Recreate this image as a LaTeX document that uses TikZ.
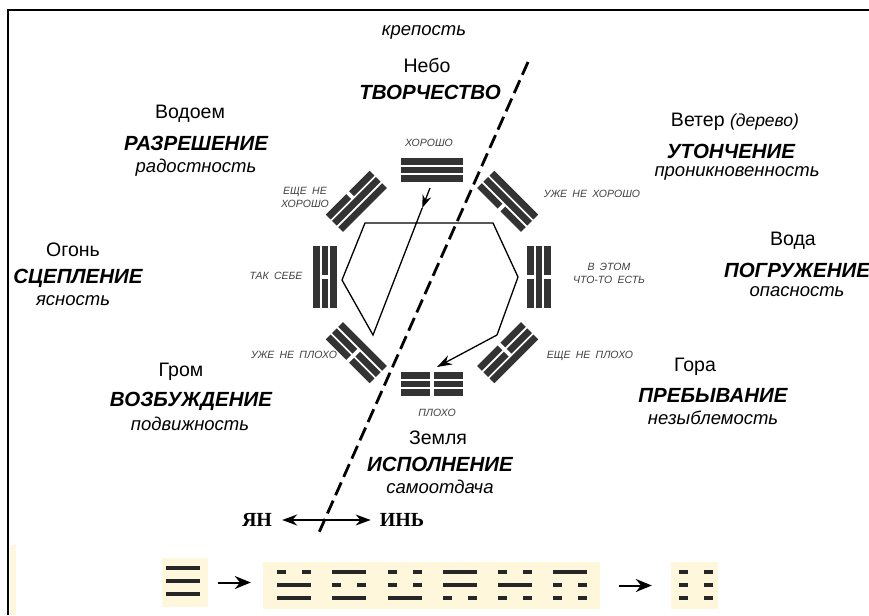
\documentclass[tikz,border=0pt]{standalone}
\usepackage{fontspec}
\setmainfont{Liberation Sans}
\newfontfamily\yyfont{Liberation Serif}
\usepackage{tikz}
\usetikzlibrary{arrows.meta, positioning}
\definecolor{cream}{HTML}{FFF7DC}
\definecolor{barcol}{HTML}{333333}
\definecolor{notecol}{HTML}{404040}

\begin{document}
\begin{tikzpicture}[
  x=1pt, y=1pt,
  elem/.style={font=\fontsize{19.5}{22}\selectfont, inner sep=1pt},
  quality/.style={font=\fontsize{20.5}{22}\selectfont\bfseries\itshape, inner sep=1pt},
  trait/.style={font=\fontsize{18.5}{20}\selectfont\itshape, inner sep=1pt},
  note/.style={font=\fontsize{10.5}{13}\selectfont\itshape, text=notecol,
               align=center, inner sep=1pt},
  bar/.style={fill=barcol},
  pathline/.style={line width=1.3pt},
  yy/.style={font=\fontsize{20}{22}\selectfont\yyfont\bfseries, inner sep=2pt},
  panel/.style={fill=cream, inner sep=0pt},
  stroke/.style={line width=3.5pt, draw=black!85}
]
\useasboundingbox (0,0) rectangle (869,-615);

% frame
\draw[line width=2.5pt] (8,-615) -- (8,-10) -- (869,-10);
\fill[cream] (10,-545) rectangle (16,-615);

% trigrams on the circle
\coordinate (c) at (432,-277);
\foreach \ang/\lo/\mi/\hi in {90/1/1/1, 135/1/1/0, 180/1/0/1, -135/1/0/0,
                              45/0/1/1, 0/0/1/0, -45/0/0/1, -90/0/0/0} {
  \begin{scope}[shift={(c)}, shift={(\ang:107)}, rotate=\ang-90]
    \foreach \k/\v in {-1/\lo, 0/\mi, 1/\hi} {
      \ifnum\v=1
        \fill[bar] (-31,\k*8.8-3.4) rectangle (31,\k*8.8+3.4);
      \else
        \fill[bar] (-31,\k*8.8-3.4) rectangle (-2,\k*8.8+3.4);
        \fill[bar] (2,\k*8.8-3.4) rectangle (31,\k*8.8+3.4);
      \fi
    }
  \end{scope}
}

% path heaven -> earth
\coordinate (a0) at (430,-188);
\coordinate (a1) at (422.2,-208);
\coordinate (v1) at (373,-335);
\coordinate (v2) at (342,-280);
\coordinate (v3) at (365,-223);
\coordinate (v4) at (493,-223);
\coordinate (v5) at (518,-277);
\coordinate (v6) at (497,-335);
\coordinate (a2) at (437,-367);
\draw[pathline, -{Stealth[length=13pt, width=9pt]}] (a0) -- (a1);
\draw[pathline] (a1) -- (v1) -- (v2) -- (v3) -- (v4) -- (v5) -- (v6);
\draw[pathline, -{Stealth[length=15pt, width=10pt]}] (v6) -- (a2);

% yang / yin divide
\coordinate (d1) at (528,-62);
\coordinate (d2) at (317,-537);
\draw[line width=2.8pt, dash pattern=on 14pt off 6pt] (d1) -- (d2);

% element labels
\node[trait] (fortress) at (424,-32) {крепость};
\node[elem] (heaven) at (427,-65) {Небо};
\node[quality] (heavenq) at (430,-92) {ТВОРЧЕСТВО};

\node[elem] (lake) at (190,-114) {Водоем};
\node[quality] (lakeq) at (196,-143) {РАЗРЕШЕНИЕ};
\node[trait] (laket) at (196,-168) {радостность};

\node[elem] (wind) at (735,-122) {Ветер {\itshape\fontsize{17.5}{20}\selectfont(дерево)}};
\node[quality] (windq) at (731,-151) {УТОНЧЕНИЕ};
\node[trait] (windt) at (737,-173) {проникновенность};

\node[elem] (fire) at (73,-250) {Огонь};
\node[quality] (fireq) at (78,-278) {СЦЕПЛЕНИЕ};
\node[trait] (firet) at (73,-301) {ясность};

\node[elem] (water) at (793,-241) {Вода};
\node[quality] (waterq) at (797,-270) {ПОГРУЖЕНИЕ};
\node[trait] (watert) at (797,-292) {опасность};

\node[elem] (thunder) at (181,-372) {Гром};
\node[quality] (thunderq) at (191,-401) {ВОЗБУЖДЕНИЕ};
\node[trait] (thundert) at (190,-424) {подвижность};

\node[elem] (mountain) at (695,-367) {Гора};
\node[quality] (mountainq) at (713,-395) {ПРЕБЫВАНИЕ};
\node[trait] (mountaint) at (713,-418) {незыблемость};

\node[elem] (earth) at (438,-438) {Земля};
\node[quality] (earthq) at (440,-464) {ИСПОЛНЕНИЕ};
\node[trait] (eartht) at (440,-487) {самоотдача};

% notes at the trigrams
\node[note] (nGood) at (429,-143) {ХОРОШО};
\node[note] (nLake) at (305,-197) {ЕЩЕ\enspace НЕ\\ХОРОШО};
\node[note] (nWind) at (592,-194) {УЖЕ\enspace НЕ\enspace ХОРОШО};
\node[note] (nFire) at (276,-276) {ТАК\enspace СЕБЕ};
\node[note] (nWater) at (609,-273) {В\enspace ЭТОМ\\ЧТО-ТО\enspace ЕСТЬ};
\node[note] (nThunder) at (294,-355) {УЖЕ\enspace НЕ\enspace ПЛОХО};
\node[note] (nMountain) at (590,-356) {ЕЩЕ\enspace НЕ\enspace ПЛОХО};
\node[note] (nBad) at (437,-413) {ПЛОХО};

% yang <-> yin
\node[yy] (yang) at (257,-520) {ЯН};
\node[yy] (yin) at (402,-520) {ИНЬ};
\draw[line width=1.6pt, {Stealth[length=15pt, width=11pt]}-{Stealth[length=15pt, width=11pt]},
      shorten <=8pt, shorten >=7pt] (yang) -- (yin);

% lower row
\node[panel, minimum width=46pt, minimum height=49pt] (box1) at (185,-582.5) {};
\node[panel, minimum width=337pt, minimum height=47pt] (box2) at (431.5,-585.5) {};
\node[panel, minimum width=47pt, minimum height=47pt] (box3) at (694.5,-585.5) {};
\foreach \x/\y/\t/\m/\b in {166/568/1/1/1, 277/572/0/1/1, 332/572/1/0/1, 388/572/0/0/1,
                            443/572/1/1/0, 498/572/0/1/0, 553/572/1/0/0, 679/572/0/0/0} {
  \foreach \dy/\v in {0/\t, 13/\m, 26/\b} {
    \ifnum\v=1
      \draw[stroke] (\x,-\y-\dy) -- ++(34,0);
    \else
      \draw[stroke] (\x,-\y-\dy) -- ++(9,0) (\x+25,-\y-\dy) -- ++(9,0);
    \fi
  }
}
\draw[line width=2pt, -{Stealth[length=16pt, width=13pt]},
      shorten <=10pt, shorten >=12pt] (box1.east) -- (box1.east -| box2.west);
\draw[line width=2pt, -{Stealth[length=16pt, width=13pt]},
      shorten <=19pt, shorten >=19pt] (box2.east) -- (box3.west);
\end{tikzpicture}
\end{document}
